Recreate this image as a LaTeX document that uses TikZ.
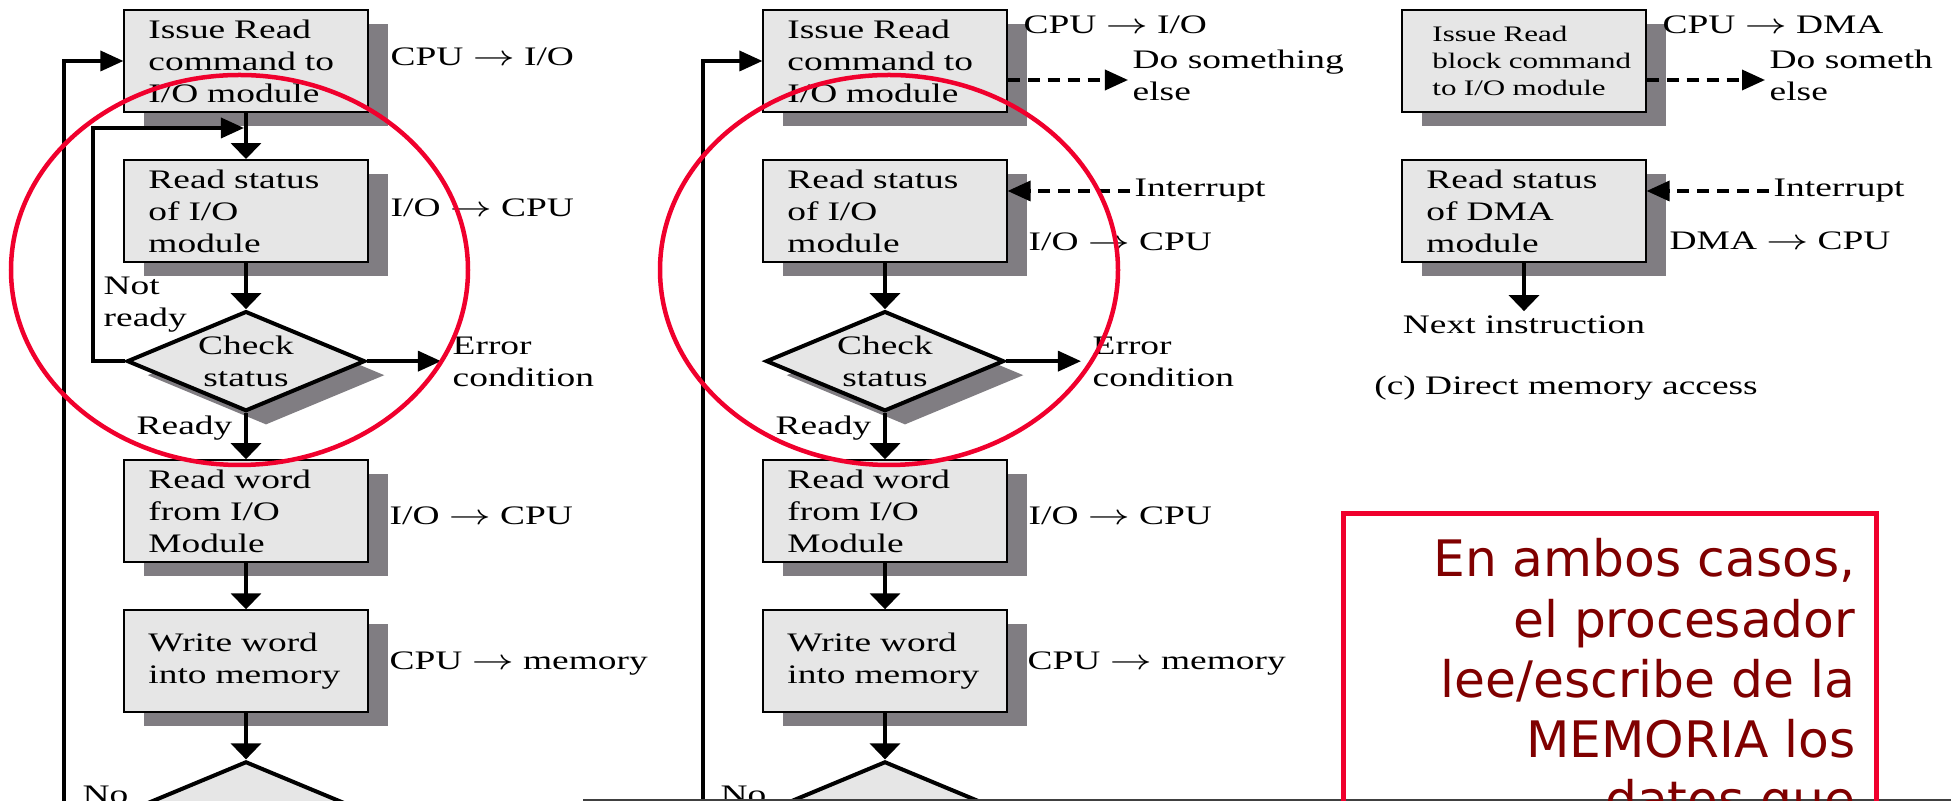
\documentclass[tikz,border=0pt]{standalone}
\usepackage{fontspec}
\setmainfont{Liberation Serif}
\newfontfamily\figfont[FakeStretch=1.4]{Liberation Serif}
\newfontfamily\notefont{DejaVu Sans}
\usetikzlibrary{arrows.meta,positioning,shapes.geometric,shadows}

\definecolor{boxgray}{RGB}{230,230,230}
\definecolor{shadowgray}{RGB}{128,125,130}
\definecolor{ringred}{RGB}{240,0,45}
\definecolor{notered}{RGB}{128,0,0}

\hyphenpenalty=10000
\exhyphenpenalty=10000
\newcommand\flowto{\scalebox{1.4}[1]{$\rightarrow$}}

\begin{document}
\begin{tikzpicture}[x=0.01cm,y=-0.01cm,node distance=1.5cm,
    h arrow/.style={-{Triangle[length=0.23cm,width=0.2cm]},line width=0.035cm},
    v arrow/.style={-{Triangle[length=0.16cm,width=0.3cm]},line width=0.035cm},
    dash arrow/.style={h arrow,dash pattern=on 0.12cm off 0.08cm},
    io box/.style={rectangle,draw,line width=0.02cm,fill=boxgray,
        minimum width=2.43cm,minimum height=1.02cm,text width=1.95cm,
        inner xsep=0.24cm,inner ysep=0pt,align=left,
        font=\figfont\fontsize{7.6}{9.1}\selectfont,
        drop shadow={shadow xshift=0.2cm,shadow yshift=-0.14cm,fill=shadowgray,opacity=1}},
    small text/.style={font=\figfont\fontsize{6.3}{7.8}\selectfont,inner xsep=0.3cm,text width=1.83cm},
    check node/.style={diamond,draw,line width=0.04cm,fill=boxgray,aspect=2.4,
        minimum width=2.38cm,minimum height=1.0cm,inner sep=0pt,align=center,
        font=\figfont\fontsize{7.6}{9.1}\selectfont,
        drop shadow={shadow xshift=0.2cm,shadow yshift=-0.14cm,fill=shadowgray,opacity=1}},
    side label/.style={font=\figfont\fontsize{7.6}{9.1}\selectfont,inner sep=0.04cm,align=left},
    ring/.style={draw=ringred,line width=0.045cm},
    note text/.style={font=\notefont\fontsize{14.3}{17.1}\selectfont,text=notered,align=right,inner sep=0pt}]

    \fill[white] (0,0) rectangle (1951,801);
    \clip (0,0) rectangle (1951,801);

    % (a) programmed I/O
    \node[io box] (a1) at (246,61) {Issue~Read\\command~to\\I/O~module};
    \node[io box] (a2) [below of=a1] {Read~status\\of~I/O\\module};
    \node[check node] (a3) [below of=a2] {Check\\status};
    \node[io box] (a4) [below of=a3] {Read~word\\from~I/O\\Module};
    \node[io box] (a5) [below of=a4] {Write~word\\into~memory};
    \node[check node] (a6) [below of=a5] {};

    \node[side label,anchor=base west] (la1) at (386,66) {CPU \flowto{} I/O};
    \node[side label,anchor=base west] (la2) at (386,217) {I/O \flowto{} CPU};
    \node[side label,anchor=base west] (la4) at (385,525) {I/O \flowto{} CPU};
    \node[side label,anchor=base west] (la5) at (385,670) {CPU \flowto{} memory};
    \node[side label,anchor=base west] (anr) at (99,327) {Not\\ready};
    \node[side label,anchor=base east] (ardy) at (237,435) {Ready};
    \node[side label,anchor=west] (aerr) at (448,362) {Error\\condition};
    \node[side label,anchor=base west] (ano) at (78,804) {No};

    \coordinate (a12) at (244,128);
    \path[v arrow] (a1) edge (a2) (a2) edge (a3) (a3) edge (a4)
        (a4) edge (a5) (a5) edge (a6);
    \draw[h arrow] (a3.west) -- ++(-32,0) |- (a12);
    \draw[h arrow,shorten >=0.07cm] (a3.east) -- (a3.east -| aerr.west);
    \draw[h arrow] (a6.west) -- ++(-61,0) |- (a1.west);

    % (b) interrupt-driven I/O
    \node[io box] (b1) at (885,61) {Issue~Read\\command~to\\I/O~module};
    \node[io box] (b2) [below of=b1] {Read~status\\of~I/O\\module};
    \node[check node] (b3) [below of=b2] {Check\\status};
    \node[io box] (b4) [below of=b3] {Read~word\\from~I/O\\Module};
    \node[io box] (b5) [below of=b4] {Write~word\\into~memory};
    \node[check node] (b6) [below of=b5] {};

    \node[side label,anchor=base west] (lb1) at (1019,34) {CPU \flowto{} I/O};
    \node[side label,anchor=west] (bdo) at (1128,75) {Do something\\else};
    \node[side label,anchor=west] (bint) at (1130,191) {Interrupt};
    \node[side label,anchor=base west] (lb2) at (1024,251) {I/O \flowto{} CPU};
    \node[side label,anchor=base west] (lb4) at (1024,525) {I/O \flowto{} CPU};
    \node[side label,anchor=base west] (lb5) at (1023,670) {CPU \flowto{} memory};
    \node[side label,anchor=base east] (brdy) at (876,435) {Ready};
    \node[side label,anchor=west] (berr) at (1088,362) {Error\\condition};
    \node[side label,anchor=base west] (bno) at (716,804) {No};

    \path[v arrow] (b2) edge (b3) (b3) edge (b4) (b4) edge (b5) (b5) edge (b6);
    \draw[dash arrow] ([yshift=-0.19cm]b1.east) -- ([yshift=-0.19cm]b1.east -| bdo.west);
    \draw[dash arrow] (bint.west) -- (bint.west -| b2.east);
    \draw[h arrow,shorten >=0.07cm] (b3.east) -- (b3.east -| berr.west);
    \draw[h arrow] (b6.west) -- ++(-61,0) |- (b1.west);

    % (c) direct memory access
    \node[io box,small text] (c1) at (1524,61) {Issue~Read\\block~command\\to~I/O~module};
    \node[io box] (c2) [below of=c1] {Read~status\\of~DMA\\module};
    \node[side label,below=0.48cm of c2] (c3) {Next instruction};

    \node[side label,anchor=base west] (lc1) at (1658,34) {CPU \flowto{} DMA};
    \node[side label,anchor=west] (cdo) at (1765,75) {Do someth\\else};
    \node[side label,anchor=west] (cint) at (1769,191) {Interrupt};
    \node[side label,anchor=base west] (lc2) at (1665,250) {DMA \flowto{} CPU};
    \node[side label,anchor=base] (ccap) at (1566,395) {(c) Direct memory access};

    \draw[v arrow] (c2) -- (c3);
    \draw[dash arrow] ([yshift=-0.19cm]c1.east) -- ([yshift=-0.19cm]c1.east -| cdo.west);
    \draw[dash arrow] (cint.west) -- (cint.west -| c2.east);

    % highlights
    \draw[ring] (239.5,270) ellipse [x radius=228.5,y radius=195];
    \draw[ring] (889,270) ellipse [x radius=229,y radius=195];

    \draw[line width=0.025cm,black!75] (583,800) -- (1951,800);
    \draw[draw=ringred,line width=0.05cm] (1343,514) rectangle (1876,900);
    \node[note text,anchor=north east] (note) at (1856,538)
        {En ambos casos,\\el procesador\\lee/escribe de la\\MEMORIA los\\datos que};
\end{tikzpicture}
\end{document}
